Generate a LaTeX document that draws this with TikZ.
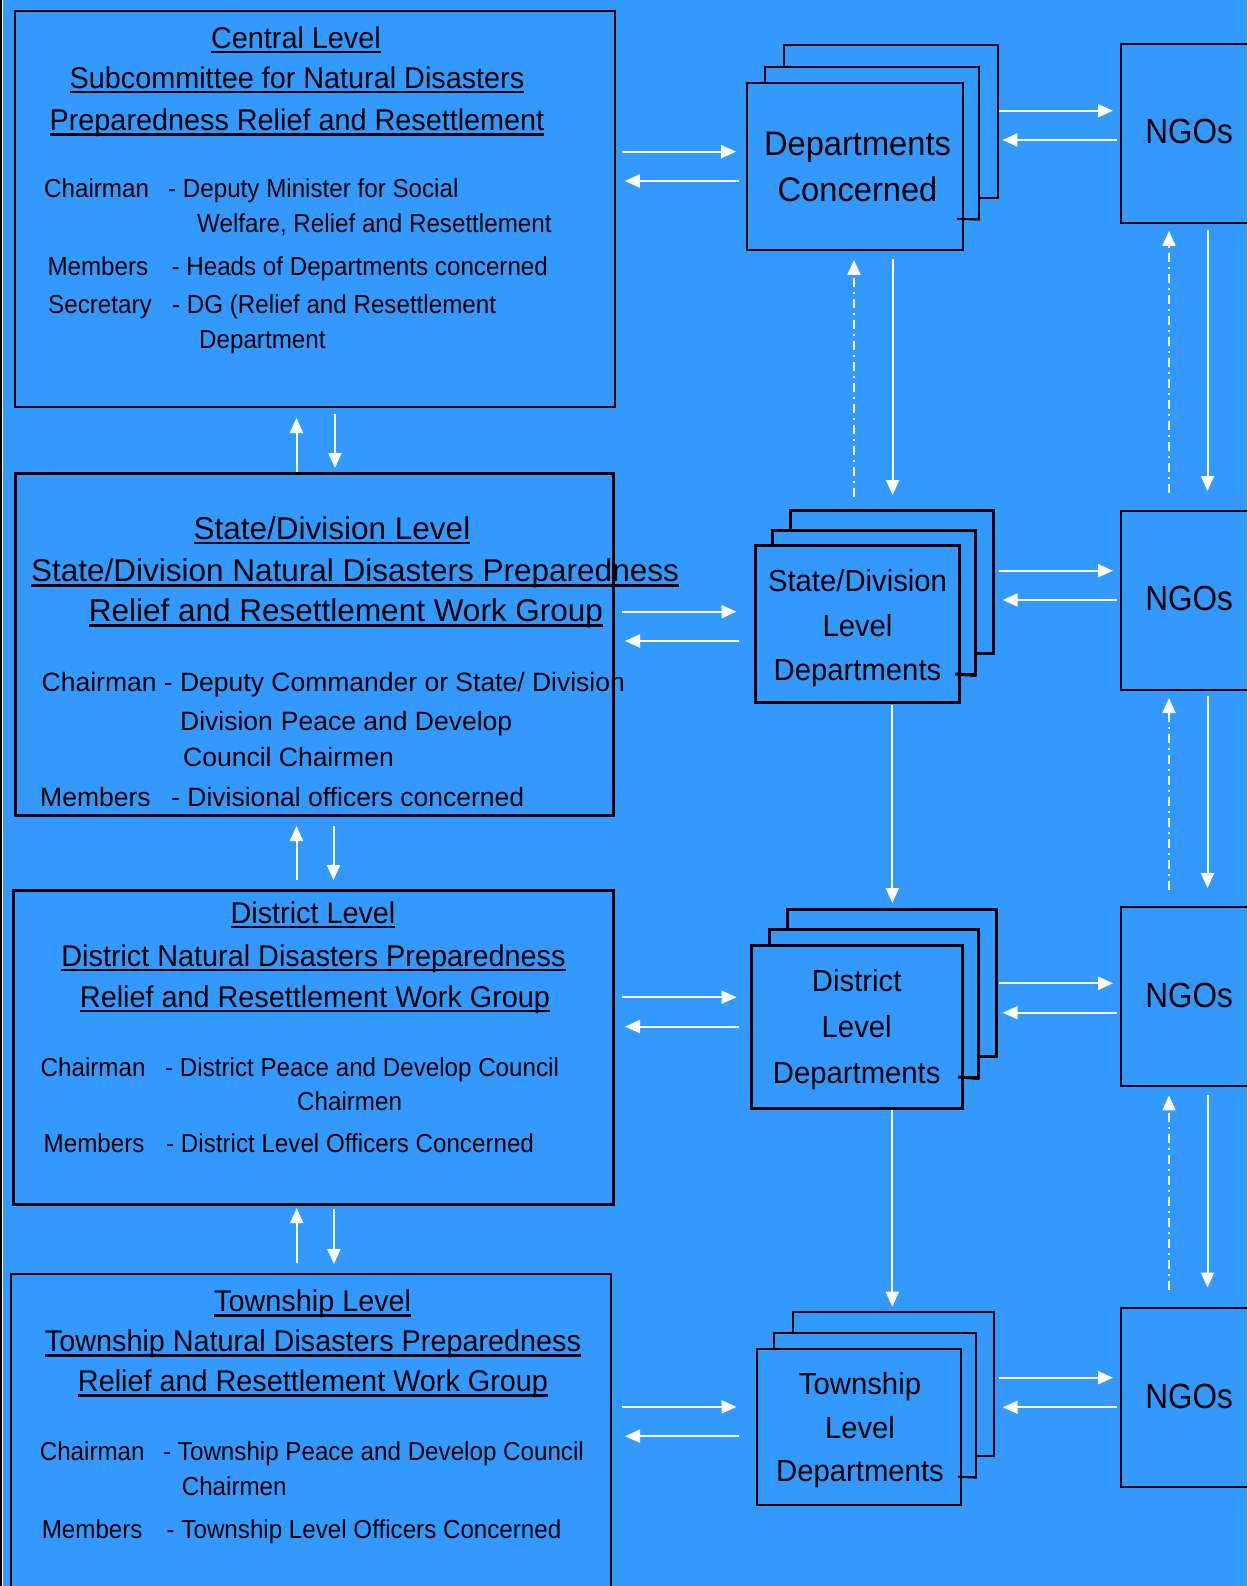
\documentclass[tikz,border=0pt]{standalone}
\usepackage{fontspec}
\setmainfont{Liberation Sans}
\newfontfamily\fA[FakeStretch=0.96]{Liberation Sans}
\newfontfamily\fB[FakeStretch=0.93]{Liberation Sans}
\newfontfamily\fC[FakeStretch=0.9]{Liberation Sans}
\newsavebox\myulbox
\newcommand\myul[1]{\leavevmode\sbox\myulbox{#1}\rlap{\rule[-5pt]{\wd\myulbox}{2.4pt}}\usebox\myulbox}
\usetikzlibrary{arrows.meta,fit}
\definecolor{bg}{RGB}{51,153,255}
\tikzset{
  box/.style={draw=black, fill=bg, inner sep=0pt, line width=2pt},
  tbox/.style={box, line width=3pt},
  ttl/.style={inner sep=0pt, anchor=base, font=\fA\fontsize{30}{36}\selectfont},
  sttl/.style={inner sep=0pt, anchor=base, font=\fontsize{31.5}{38}\selectfont},
  body/.style={inner sep=0pt, anchor=base west, font=\fB\fontsize{26}{31}\selectfont},
  sbody/.style={inner sep=0pt, anchor=base west, font=\fontsize{26.5}{32}\selectfont},
  dtop/.style={inner sep=0pt, anchor=base, font=\fA\fontsize{34}{40}\selectfont},
  dtxt/.style={inner sep=0pt, anchor=base, font=\fA\fontsize{30.5}{36}\selectfont},
  ngo/.style={inner sep=0pt, anchor=base, font=\fC\fontsize{35}{40}\selectfont},
  arr/.style={draw=white, line width=2pt, -{Triangle[length=15pt,width=13pt]}},
  dd/.style={arr, dash pattern=on 9pt off 5pt on 2pt off 5pt},
}
\begin{document}
\begin{tikzpicture}[x=1pt,y=-1pt]
\useasboundingbox (0,0) rectangle (1247,1586);
\clip (0,0) rectangle (1247,1586);
\fill[bg] (0,0) rectangle (1247,1586);
\fill[black] (0,0) rectangle (2,1586);
\fill[white] (2,0) rectangle (3.2,1586);

% ---------- left column boxes ----------
\node[box, fit={(14.7,10.7) (615,406.7)}] (cen) {};
\node[tbox, fit={(15.6,473.3) (613,815)}] (sta) {};
\node[tbox, fit={(13,890) (613,1204)}] (dis) {};
\node[box, fit={(11,1274.3) (611,1620)}] (tow) {};

% central texts
\node[ttl] (c-t1) at (296,48.3) {\myul{Central Level}};
\node[ttl] (c-t2) at (297,88.3) {\myul{Subcommittee for Natural Disasters}};
\node[ttl] (c-t3) at (297,130.7) {\myul{Preparedness Relief and Resettlement}};
\node[body] (c-l1) at (44,198) {Chairman};
\node[body] (c-v1) at (168,198) {- Deputy Minister for Social};
\node[body] (c-v2) at (197,233) {Welfare, Relief and Resettlement};
\node[body] (c-l3) at (47.3,276) {Members};
\node[body] (c-v3) at (171.4,276) {- Heads of Departments concerned};
\node[body] (c-l4) at (48,313) {Secretary};
\node[body] (c-v4) at (172,313) {- DG (Relief and Resettlement};
\node[body] (c-v5) at (199,348) {Department};

% state texts
\node[sttl] (s-t1) at (332,539) {\myul{State/Division Level}};
\node[sttl] (s-t2) at (355,581.7) {\myul{State/Division Natural Disasters Preparedness}};
\node[sttl] (s-t3) at (346,621.7) {\myul{Relief and Resettlement Work Group}};
\node[sbody] (s-l1) at (41.5,691.7) {Chairman - Deputy Commander or State/ Division};
\node[sbody] (s-v2) at (180,730) {Division\hspace{8pt}Peace and Develop};
\node[sbody] (s-v3) at (183,766.7) {Council Chairmen};
\node[sbody] (s-l4) at (40,806.7) {Members};
\node[sbody] (s-v4) at (171,806.7) {- Divisional officers concerned};

% district texts
\node[ttl] (d-t1) at (313,923) {\myul{District Level}};
\node[ttl] (d-t2) at (313.5,966) {\myul{District Natural Disasters Preparedness}};
\node[ttl] (d-t3) at (315,1007) {\myul{Relief and Resettlement Work Group}};
\node[body] (d-l1) at (40.5,1076) {Chairman};
\node[body] (d-v1) at (165,1076) {- District Peace and Develop Council};
\node[body] (d-v2) at (297,1110) {Chairmen};
\node[body] (d-l3) at (43.5,1152) {Members};
\node[body] (d-v3) at (166,1152) {- District Level Officers Concerned};

% township texts
\node[ttl] (t-t1) at (312.7,1311.7) {\myul{Township Level}};
\node[ttl] (t-t2) at (313,1351.7) {\myul{Township Natural Disasters Preparedness}};
\node[ttl] (t-t3) at (313,1391.7) {\myul{Relief and Resettlement Work Group}};
\node[body] (t-l1) at (39.6,1460) {Chairman};
\node[body] (t-v1) at (163,1460) {- Township Peace and Develop Council};
\node[body] (t-v2) at (181.6,1495) {Chairmen};
\node[body] (t-l3) at (41.6,1538.3) {Members};
\node[body] (t-v3) at (166.5,1538.3) {- Township Level Officers Concerned};

% ---------- department stacks ----------
\node[box, fit={(784,44.7) (998,197.7)}] (dc-b) {};
\node[box, fit={(764.7,66.7) (979,218.7)}] (dc-m) {};
\node[box, fit={(746.5,83) (963,249.7)}] (dc) {};
\draw[line width=2pt] (957,218.7) -- (dc-m.south east);
\node[dtop] (dc-1) at (857.5,156) {Departments};
\node[dtop] (dc-2) at (857.5,201.7) {Concerned};

\node[tbox, fit={(790.7,510) (993.3,653)}] (ds-b) {};
\node[tbox, fit={(772,530) (975,674)}] (ds-m) {};
\node[tbox, fit={(755,545.7) (959,702)}] (ds) {};
\draw[line width=3pt] (955,674) -- (ds-m.south east);
\node[dtxt] (ds-1) at (857.5,591.7) {State/Division};
\node[dtxt] (ds-2) at (857.5,636.7) {Level};
\node[dtxt] (ds-3) at (857.5,680) {Departments};

\node[tbox, fit={(787,909) (996,1056)}] (dd-b) {};
\node[tbox, fit={(769,929) (978,1077)}] (dd-m) {};
\node[tbox, fit={(751,945) (962,1108)}] (ddp) {};
\draw[line width=3pt] (958,1077) -- (dd-m.south east);
\node[dtxt] (dd-1) at (856.7,991) {District};
\node[dtxt] (dd-2) at (856.7,1037.7) {Level};
\node[dtxt] (dd-3) at (856.7,1083.3) {Departments};

\node[box, fit={(792.7,1312) (994,1456)}] (dt-b) {};
\node[box, fit={(774,1332.7) (976,1476.7)}] (dt-m) {};
\node[box, fit={(756.7,1348.7) (961,1505)}] (dt) {};
\draw[line width=2pt] (958,1476.7) -- (dt-m.south east);
\node[dtxt] (dt-1) at (860,1394) {Township};
\node[dtxt] (dt-2) at (860,1438.3) {Level};
\node[dtxt] (dt-3) at (860,1481.7) {Departments};

% ---------- NGO boxes ----------
\node[box, fit={(1120.5,44) (1270,223)}] (n1) {};
\node[box, fit={(1120.5,510.7) (1270,689.8)}] (n2) {};
\node[box, fit={(1120.5,907) (1270,1086)}] (n3) {};
\node[box, fit={(1120.5,1307.7) (1270,1486.7)}] (n4) {};
\node[ngo] (n1t) at (1189,143.3) {NGOs};
\node[ngo] (n2t) at (1189,610) {NGOs};
\node[ngo] (n3t) at (1189,1007) {NGOs};
\node[ngo] (n4t) at (1189,1408) {NGOs};

% ---------- arrow end points ----------
\coordinate (h1a) at (621.5,151.7); \coordinate (h1b) at (736,151.7);
\coordinate (h1c) at (739,181);   \coordinate (h1d) at (624.8,181);
\coordinate (h2a) at (622,611.7);  \coordinate (h2b) at (736.5,611.7);
\coordinate (h2c) at (739,641);   \coordinate (h2d) at (625,641);
\coordinate (h3a) at (622,997.2);  \coordinate (h3b) at (736.5,997.2);
\coordinate (h3c) at (739,1026.6); \coordinate (h3d) at (625,1026.6);
\coordinate (h4a) at (622,1406.9); \coordinate (h4b) at (736.5,1406.9);
\coordinate (h4c) at (739,1436.2); \coordinate (h4d) at (625,1436.2);
\coordinate (g1a) at (999,110.7);  \coordinate (g1b) at (1113,110.7);
\coordinate (g1c) at (1116.7,140); \coordinate (g1d) at (1002.4,140);
\coordinate (g2a) at (999,570.7);  \coordinate (g2b) at (1113,570.7);
\coordinate (g2c) at (1116.7,600); \coordinate (g2d) at (1002.7,600);
\coordinate (g3a) at (999,983.3);  \coordinate (g3b) at (1113,983.3);
\coordinate (g3c) at (1116.7,1012.7); \coordinate (g3d) at (1002.7,1012.7);
\coordinate (g4a) at (999,1377.7); \coordinate (g4b) at (1113,1377.7);
\coordinate (g4c) at (1116.7,1407.3); \coordinate (g4d) at (1002.7,1407.3);
\coordinate (v1a) at (296.5,472);  \coordinate (v1b) at (296.5,418);
\coordinate (v1c) at (335,413.6);  \coordinate (v1d) at (335,468);
\coordinate (v2a) at (296.5,880);  \coordinate (v2b) at (296.5,826);
\coordinate (v2c) at (333.5,826);  \coordinate (v2d) at (333.5,880);
\coordinate (v3a) at (296.7,1262.7); \coordinate (v3b) at (296.7,1208);
\coordinate (v3c) at (333.9,1209); \coordinate (v3d) at (333.9,1264);
\coordinate (p1a) at (854,496.7);  \coordinate (p1b) at (854,260);
\coordinate (p1c) at (892.6,259);  \coordinate (p1d) at (892.6,495);
\coordinate (p2c) at (892.3,705);  \coordinate (p2d) at (892.3,903);
\coordinate (p3c) at (892.3,1110); \coordinate (p3d) at (892.3,1306.7);
\coordinate (q1a) at (1169,492.7); \coordinate (q1b) at (1169,231);
\coordinate (q1c) at (1207.5,230); \coordinate (q1d) at (1207.5,491);
\coordinate (q2a) at (1169,890);   \coordinate (q2b) at (1169,698);
\coordinate (q2c) at (1207.5,696); \coordinate (q2d) at (1207.5,888);
\coordinate (q3a) at (1169,1289.5); \coordinate (q3b) at (1169,1095.4);
\coordinate (q3c) at (1207.5,1095.4); \coordinate (q3d) at (1207.5,1287.5);

% ---------- arrows ----------
\foreach \i in {1,2,3,4} {
  \draw[arr] (h\i a) -- (h\i b);
  \draw[arr] (h\i c) -- (h\i d);
  \draw[arr] (g\i a) -- (g\i b);
  \draw[arr] (g\i c) -- (g\i d);
}
\foreach \i in {1,2,3} {
  \draw[arr] (v\i a) -- (v\i b);
  \draw[arr] (v\i c) -- (v\i d);
  \draw[dd] (q\i a) -- (q\i b);
  \draw[arr] (q\i c) -- (q\i d);
  \draw[arr] (p\i c) -- (p\i d);
}
\draw[dd] (p1a) -- (p1b);
\end{tikzpicture}
\end{document}
